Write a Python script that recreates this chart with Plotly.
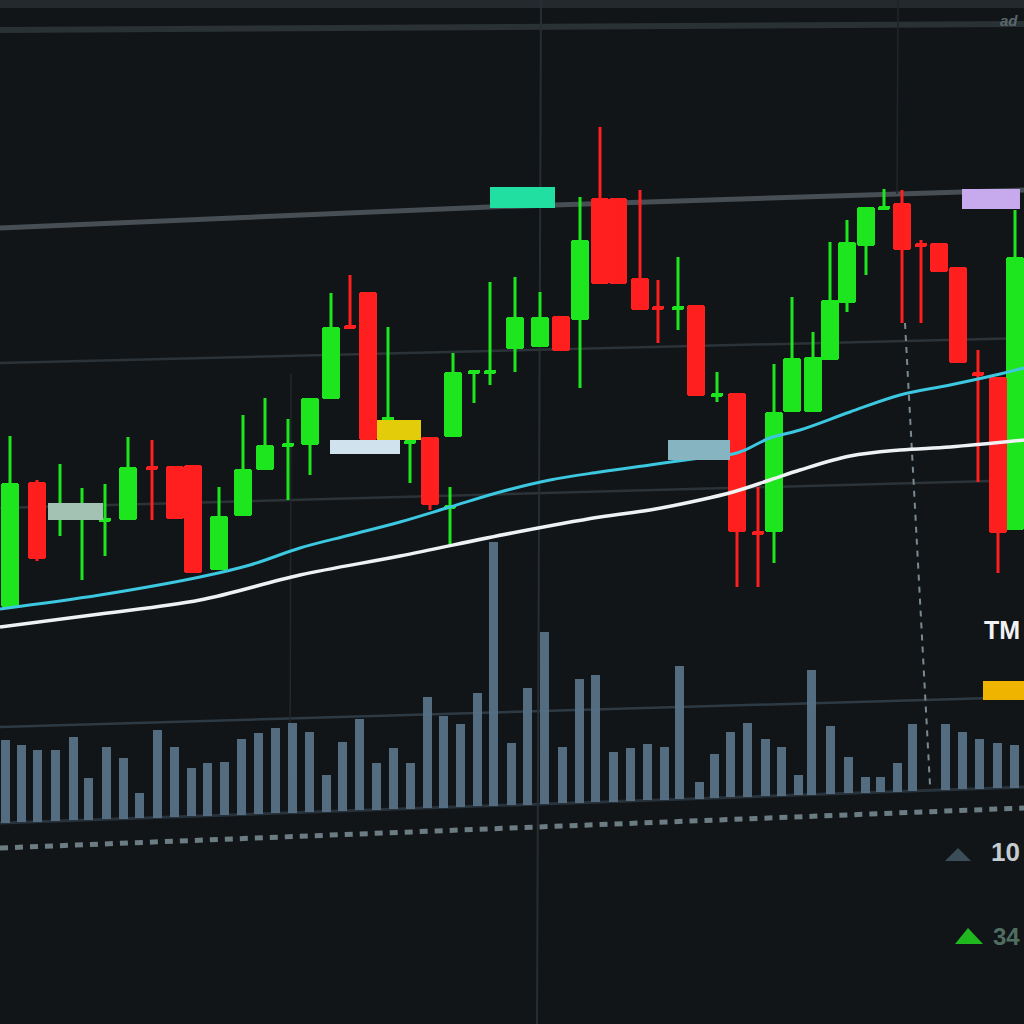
import plotly.graph_objects as go

# ---------------- data (price units) ----------------
candle_x = [10, 37, 60, 82, 105, 128, 152, 175, 193, 219, 243, 265, 288, 310, 331, 350, 368, 388, 410, 430,
            450, 453, 474, 490, 515, 540, 561, 580, 600, 618, 640, 658, 678, 696, 717, 737, 758, 774, 792, 813,
            830, 847, 866, 884, 902, 921, 939, 958, 978, 998, 1015]
open_ = [417, 542, 506, 504, 502, 504, 558, 558, 559, 454, 508, 554, 577, 579, 625, 699, 732, 604, 580, 587,
         515, 587, 650, 650, 675, 677, 708, 704, 826, 826, 746, 718, 714, 719, 627, 631, 493, 492, 612, 612,
         664, 721, 778, 814, 821, 781, 781, 757, 652, 647, 494]
high = [588, 544, 560, 536, 540, 587, 584, 558, 559, 537, 609, 626, 605, 626, 731, 749, 732, 697, 586, 587,
        537, 671, 654, 742, 747, 732, 708, 827, 897, 826, 834, 744, 767, 719, 652, 631, 537, 660, 727, 692,
        782, 804, 817, 835, 834, 784, 781, 757, 674, 647, 814]
low = [417, 463, 488, 444, 468, 504, 504, 505, 451, 454, 508, 554, 524, 549, 625, 695, 584, 604, 541, 514,
       479, 587, 621, 639, 652, 677, 673, 636, 740, 740, 714, 681, 694, 628, 622, 437, 437, 461, 612, 612,
       664, 712, 749, 814, 701, 701, 752, 661, 542, 451, 494]
close = [541, 465, 519, 519, 506, 557, 554, 505, 451, 508, 555, 579, 581, 626, 697, 695, 584, 606, 584, 519,
         519, 652, 654, 654, 707, 707, 673, 784, 740, 740, 714, 714, 718, 628, 631, 492, 489, 612, 666, 667,
         724, 782, 817, 818, 774, 777, 752, 661, 648, 491, 767]

ma_fast_x = [0, 100, 200, 250, 300, 350, 400, 450, 500, 550, 600, 650, 700, 733, 745, 770, 800, 850, 900,
             950, 1000, 1024]
ma_fast = [415, 429, 447, 459, 476, 489, 502, 517, 532, 544, 552, 559, 566, 570, 574, 586, 594, 612, 629,
           639, 650, 656]
ma_slow_x = [0, 100, 200, 300, 400, 512, 600, 650, 700, 733, 770, 800, 850, 900, 950, 1024]
ma_slow = [397, 410, 424, 449, 468, 491, 507, 514, 524, 532, 544, 554, 568, 574, 577, 584]

vol_x = [5, 21, 37, 55, 73, 88, 106, 123, 139, 157, 174, 191, 207, 224, 241, 258, 275, 292, 309, 326,
         342, 359, 376, 393, 410, 427, 443, 460, 477, 493, 511, 527, 544, 562, 579, 595, 613, 630, 647, 664,
         679, 699, 714, 730, 747, 765, 781, 798, 811, 830, 848, 865, 880, 897, 912, 945, 962, 979, 997, 1014]
volume = [83, 77, 72, 71, 83, 42, 72, 61, 25, 88, 70, 48, 53, 53, 76, 81, 85, 90, 80, 37,
          69, 91, 47, 61, 46, 111, 92, 83, 113, 264, 62, 117, 172, 56, 124, 127, 50, 53, 56, 53,
          133, 17, 44, 65, 74, 57, 49, 20, 125, 68, 36, 16, 15, 29, 67, 66, 57, 50, 45, 43]

label_tm = "TM"
label_a = "10"
label_b = "34"
label_top = "ad"

# ---------------- styling ----------------
BG = "#121518"
GREEN = "#1ee61e"
RED = "#ff1f1f"
VOL = "#587186"
GRID = "#2b3338"

fig = go.Figure()

# volume bars (perspective-tilted baseline)
vol_base = [201 + 0.035 * x for x in vol_x]
fig.add_trace(go.Bar(x=vol_x, y=volume, base=vol_base, width=9,
                     marker=dict(color=VOL, line=dict(width=0)), opacity=0.95))

# wicks
def wick_xy(up):
    xs, ys = [], []
    for x, o, h, l, c in zip(candle_x, open_, high, low, close):
        if (c >= o) == up:
            xs += [x, x, None]
            ys += [l, h, None]
    return xs, ys

for up, col in ((True, GREEN), (False, RED)):
    wx, wy = wick_xy(up)
    fig.add_trace(go.Scatter(x=wx, y=wy, mode="lines", line=dict(color=col, width=3),
                             hoverinfo="skip"))

# bodies
for up, col in ((True, GREEN), (False, RED)):
    bx, bb, bh, bw = [], [], [], []
    for x, o, c in zip(candle_x, open_, close):
        if (c >= o) == up:
            bx.append(x)
            bb.append(min(o, c))
            bh.append(max(abs(c - o), 3))
            bw.append(12 if abs(c - o) <= 5 else 18)
    fig.add_trace(go.Bar(x=bx, y=bh, base=bb, width=bw,
                         marker=dict(color=col, line=dict(width=0), cornerradius=3)))

# moving averages
fig.add_trace(go.Scatter(x=ma_fast_x, y=ma_fast, mode="lines", line=dict(color="#3cc8e0", width=3, shape="spline")))
fig.add_trace(go.Scatter(x=ma_slow_x, y=ma_slow, mode="lines", line=dict(color="#eef2f4", width=3.5, shape="spline")))

shapes = []
def line(x0, y0, x1, y1, color, width, dash=None, layer="below"):
    d = dict(type="line", x0=x0, y0=y0, x1=x1, y1=y1, layer=layer,
             line=dict(color=color, width=width))
    if dash:
        d["line"]["dash"] = dash
    shapes.append(d)

def rect(x0, y0, x1, y1, color):
    shapes.append(dict(type="rect", x0=x0, y0=y0, x1=x1, y1=y1, layer="above",
                       fillcolor=color, line=dict(width=0)))

# top band and lines
shapes.append(dict(type="rect", x0=0, y0=1016, x1=1024, y1=1024, layer="below",
                   fillcolor="#23292d", line=dict(width=0)))
line(0, 994, 1024, 1000, "#2a3135", 6)
line(0, 796, 490, 817, "#474f55", 5)
line(490, 817, 1024, 834, "#474f55", 5)
line(0, 661, 1024, 686, GRID, 2.5)
line(0, 516, 1024, 544, GRID, 2.5)
line(0, 297, 1024, 327, "#2d3a44", 2.5)
line(0, 201, 1024, 237, "#27323b", 3)
line(0, 176, 1024, 216, "#6b7c82", 5, dash="8px,7px")
# verticals
line(537, 0, 541, 1024, "#262e33", 2)
line(290, 230, 291, 650, "#20272b", 1.5)
line(897, 830, 898, 1024, "#1f262a", 1.5)
line(905, 701, 930, 239, "#7a8a92", 2, dash="6px,6px")

# colored tags
rect(490, 816, 555, 837, "#20dfa0")
rect(962, 815, 1020, 835, "#c7a9ee")
rect(48, 504, 103, 521, "#a3c2b4")
rect(330, 570, 400, 584, "#cfe2ee")
rect(377, 584, 421, 604, "#e3cc0a")
rect(668, 564, 730, 584, "#86b4c0")
rect(983, 324, 1030, 343, "#eeb400")

# triangles
shapes.append(dict(type="path", path="M 945 163 L 958 176 L 971 163 Z", layer="above",
                   fillcolor="#3b4d58", line=dict(width=0)))
shapes.append(dict(type="path", path="M 955 80 L 968 96 L 983 80 Z", layer="above",
                   fillcolor="#1fb81f", line=dict(width=0)))

annotations = [
    dict(x=1022, y=394, text=f"<b>{label_tm}</b>", showarrow=False, xanchor="right", yanchor="middle",
         font=dict(family="Liberation Sans, Arial", size=25, color="#f2f2f2")),
    dict(x=1022, y=172, text=f"<b>{label_a}</b>", showarrow=False, xanchor="right", yanchor="middle",
         font=dict(family="Liberation Sans, Arial", size=26, color="#c4ccd0")),
    dict(x=1022, y=88, text=f"<b>{label_b}</b>", showarrow=False, xanchor="right", yanchor="middle",
         font=dict(family="Liberation Sans, Arial", size=24, color="#4f6e60")),
    dict(x=1020, y=1004, text=f"<i><b>{label_top}</b></i>", showarrow=False, xanchor="right", yanchor="middle",
         font=dict(family="Liberation Sans, Arial", size=15, color="#59686e")),
]

fig.update_layout(
    width=1024, height=1024,
    margin=dict(l=0, r=0, t=0, b=0),
    paper_bgcolor=BG, plot_bgcolor=BG,
    showlegend=False, barmode="overlay", bargap=0,
    xaxis=dict(range=[0, 1024], visible=False, fixedrange=True),
    yaxis=dict(range=[0, 1024], visible=False, fixedrange=True),
    shapes=shapes, annotations=annotations,
)

fig.write_html("out.html", config={"displayModeBar": False},
               post_script="document.body.style.margin='0';document.body.style.background='#121518';")
